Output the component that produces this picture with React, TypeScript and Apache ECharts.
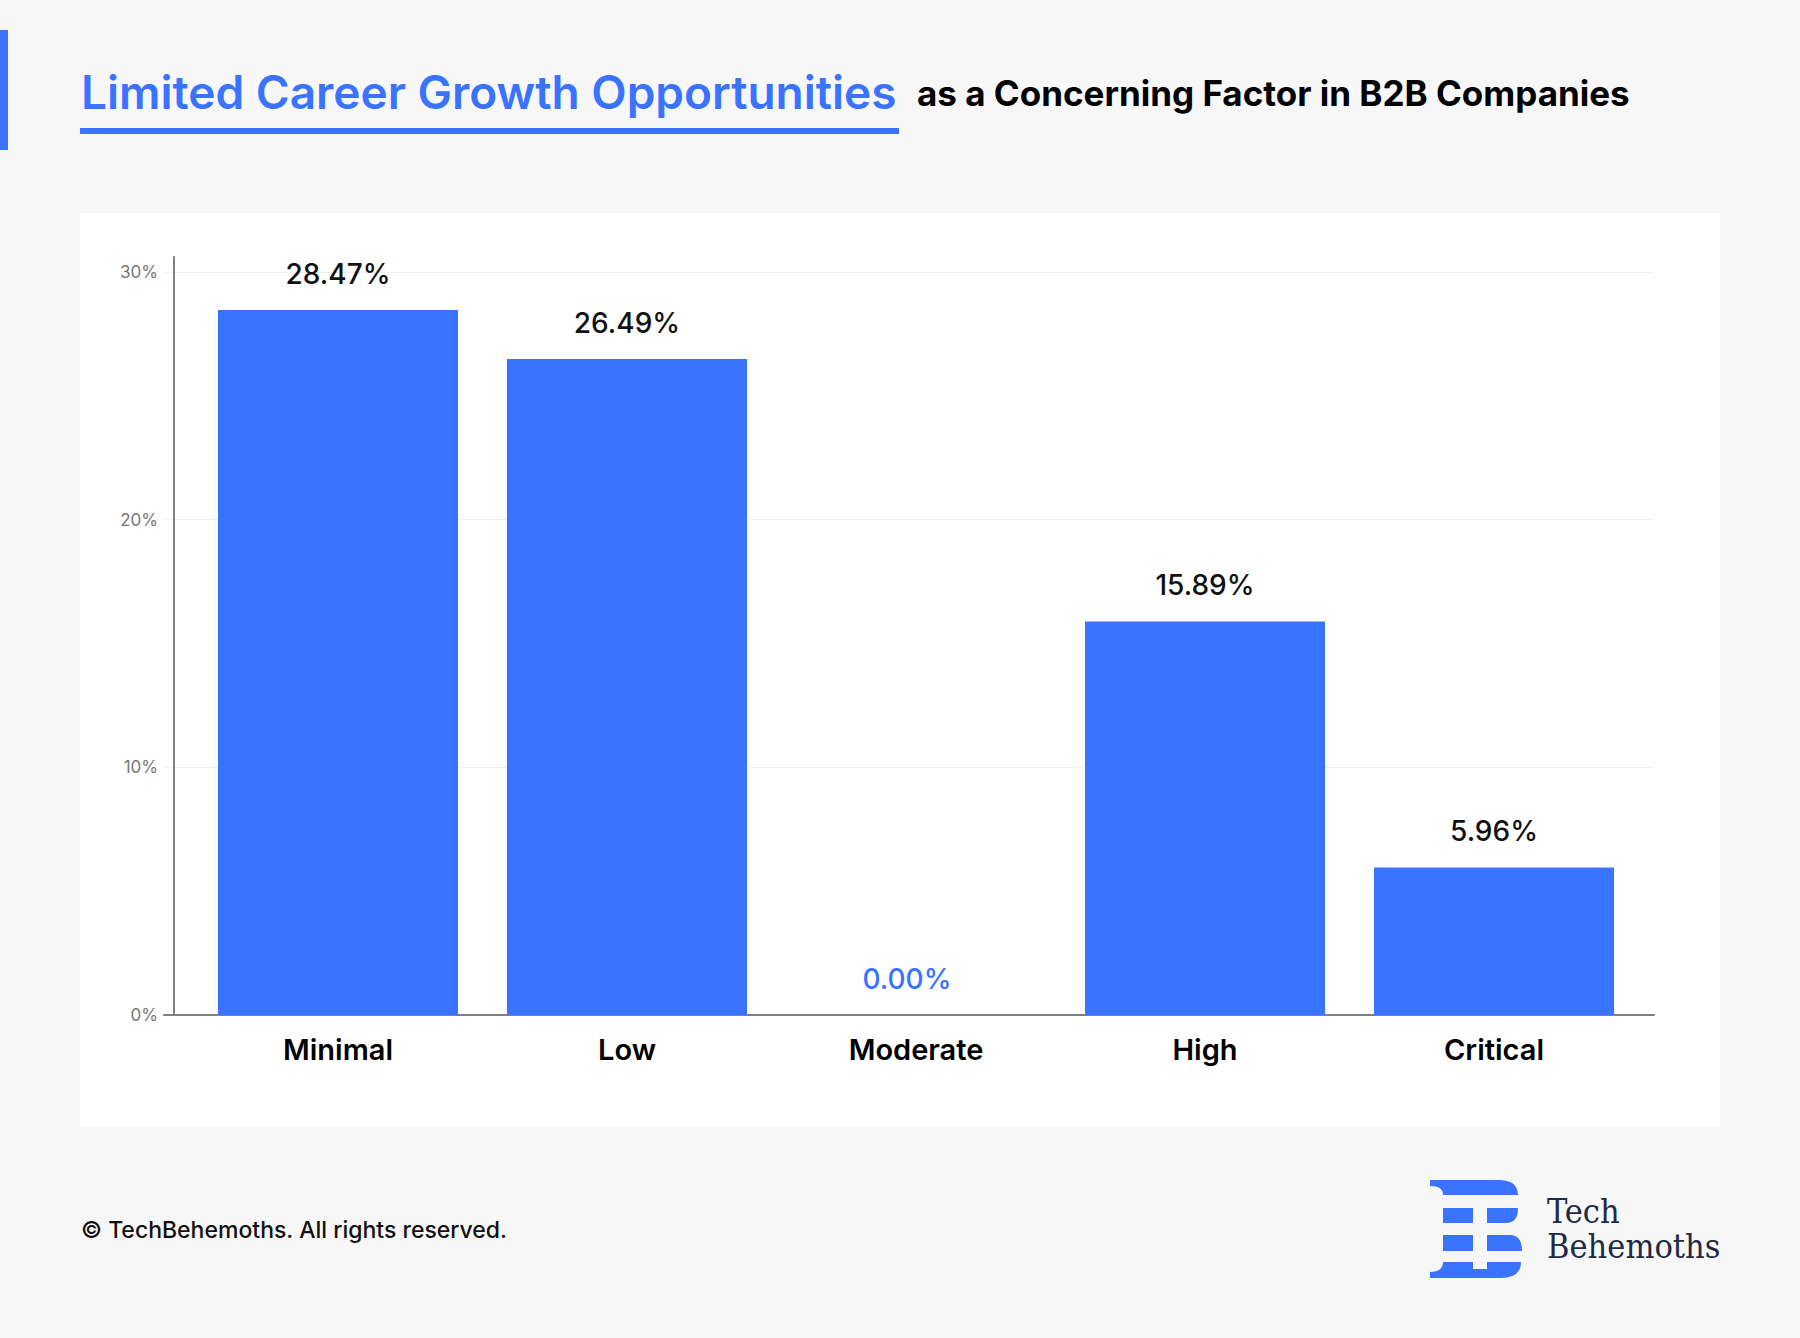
import React, { useEffect, useRef } from "react";
import * as echarts from "echarts";

const categories = ["Minimal", "Low", "Moderate", "High", "Critical"];
const values = [28.47, 26.49, 0.0, 15.89, 5.96];
const yTicks = [0, 10, 20, 30];
const titleBlue = "Limited Career Growth Opportunities";
const titleBlack = "as a Concerning Factor in B2B Companies";
const footerText = "© TechBehemoths. All rights reserved.";
const brandLines = ["Tech", "Behemoths"];

const BLUE = "#3a73ff";
const FONT = "Inter, 'Noto Sans', sans-serif";
const SERIF = "'DejaVu Serif Condensed', 'DejaVu Serif', serif";

const LOGO_D =
  "M0 0 H68 Q88 0 88 15 H13 Q13 6 0 6 Z " +
  "M13 28 H43 V43 H13 Z M57 28 H88 Q88 43 76 43 H57 Z " +
  "M13 55 H43 V71 H13 Z M57 55 H80 Q92 55 92 71 H57 Z " +
  "M13 82 H43 V89 H57 V82 H91 Q91 98 70 98 H0 V92 Q13 92 13 82 Z";

export default function App() {
  const ref = useRef<HTMLDivElement>(null);
  useEffect(() => {
    document.body.style.margin = "0";
    echarts.graphic.registerShape("tbLogo", echarts.graphic.extendPath(LOGO_D, {}));
    const chart = echarts.init(ref.current!, undefined, { renderer: "svg" });
    const yMin = yTicks[0];
    const yMax = yTicks[yTicks.length - 1];
    const yInt = yTicks[1] - yTicks[0];
    const option: any = {
      animation: false,
      backgroundColor: "#f7f7f7",
      graphic: [
        { type: "rect", z: -10, shape: { x: 80, y: 213, width: 1640, height: 914 }, style: { fill: "#ffffff" } },
        { type: "rect", shape: { x: 0, y: 30, width: 8, height: 120 }, style: { fill: BLUE } },
        {
          type: "text",
          x: 81,
          y: 92,
          style: { text: titleBlue, fill: BLUE, fontFamily: FONT, fontSize: 46, fontWeight: 600, align: "left", verticalAlign: "middle" },
        },
        { type: "rect", shape: { x: 80, y: 128, width: 819, height: 6 }, style: { fill: BLUE } },
        {
          type: "text",
          x: 917,
          y: 93,
          style: { text: titleBlack, fill: "#000000", fontFamily: FONT, fontSize: 35, fontWeight: 700, align: "left", verticalAlign: "middle" },
        },
        {
          type: "text",
          x: 81,
          y: 1230,
          style: { text: footerText, fill: "#111111", fontFamily: FONT, fontSize: 23, fontWeight: 500, align: "left", verticalAlign: "middle" },
        },
        { type: "tbLogo", x: 1430, y: 1180, style: { fill: BLUE } },
        {
          type: "text",
          x: 1547,
          y: 1228.5,
          style: {
            text: brandLines.join("\n"),
            fill: "#1e2a45",
            fontFamily: SERIF,
            fontSize: 34,
            lineHeight: 35,
            align: "left",
            verticalAlign: "middle",
          },
        },
      ],
      grid: [
        { left: 164, right: 1800 - 1654, top: 272, bottom: 1338 - 1015 },
        { left: 193.5, right: 1800 - 1638.5, top: 272, bottom: 1338 - 1015 },
        { left: 174, width: 1, top: 257, bottom: 1338 - 1015 },
      ],
      xAxis: [
        {
          gridIndex: 0,
          type: "category",
          data: categories,
          axisLine: { show: true, lineStyle: { color: "#808080", width: 2 } },
          axisTick: { show: false },
          axisLabel: { show: false },
          splitLine: { show: false },
        },
        {
          gridIndex: 1,
          type: "category",
          data: categories,
          axisLine: { show: false },
          axisTick: { show: false },
          axisLabel: { color: "#000000", fontFamily: FONT, fontSize: 29, fontWeight: 600, margin: 20 },
          splitLine: { show: false },
        },
        { gridIndex: 2, type: "value", min: 0, max: 1, show: false },
      ],
      yAxis: [
        {
          gridIndex: 0,
          type: "value",
          min: yMin,
          max: yMax,
          interval: yInt,
          offset: -10,
          axisLine: { show: false },
          axisTick: { show: false },
          axisLabel: { formatter: "{value}%", color: "#777777", fontFamily: FONT, fontSize: 17, margin: 16 },
          splitLine: { show: true, lineStyle: { color: "#f0f0f0", width: 1 } },
        },
        { gridIndex: 1, type: "value", min: yMin, max: yMax, interval: yInt, show: false },
        {
          gridIndex: 2,
          type: "value",
          min: 0,
          max: 1,
          axisLine: { show: true, lineStyle: { color: "#808080", width: 2 } },
          axisTick: { show: false },
          axisLabel: { show: false },
          splitLine: { show: false },
        },
      ],
      series: [
        {
          type: "bar",
          xAxisIndex: 1,
          yAxisIndex: 1,
          barWidth: 240,
          itemStyle: { color: BLUE },
          data: values.map((v) =>
            v === 0 ? { value: v, label: { color: BLUE, offset: [-9, 0] } } : { value: v }
          ),
          label: {
            show: true,
            position: "top",
            distance: 22,
            color: "#111111",
            fontFamily: FONT,
            fontSize: 28,
            fontWeight: 500,
            formatter: (p: any) => Number(p.value).toFixed(2) + "%",
          },
        },
      ],
    };
    chart.setOption(option);
    return () => chart.dispose();
  }, []);
  return <div ref={ref} style={{ position: "absolute", left: 0, top: 0, width: 1800, height: 1338 }} />;
}
